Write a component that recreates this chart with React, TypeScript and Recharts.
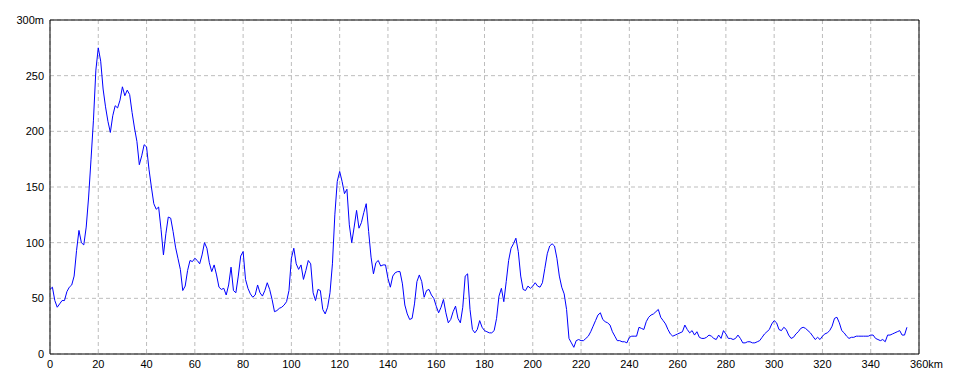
import { LineChart, Line, XAxis, YAxis, CartesianGrid, ReferenceLine } from 'recharts';

// elevation (m) sampled every 1 km, starting at 0 km
const elevation = [
  58, 60, 48, 42, 45, 48, 48, 56, 60, 62,
  70, 93, 111, 100, 98, 114, 141, 175, 210, 255,
  275, 263, 238, 222, 209, 199, 214, 223, 221, 228,
  240, 232, 237, 233, 217, 203, 191, 170, 178, 188,
  186, 166, 150, 135, 130, 132, 112, 89, 108, 123,
  122, 110, 96, 86, 76, 57, 61, 75, 84, 83,
  86, 84, 81, 89, 100, 95, 82, 74, 80, 71,
  60, 58, 59, 53, 62, 78, 57, 55, 70, 88,
  92, 67, 59, 54, 51, 53, 62, 55, 52, 57,
  64, 58, 49, 38, 39, 41, 42, 44, 47, 57,
  86, 95, 81, 76, 80, 67, 75, 84, 81, 55,
  48, 58, 57, 40, 36, 42, 55, 81, 125, 155,
  164, 155, 144, 148, 116, 100, 114, 129, 113, 118,
  127, 135, 110, 87, 72, 82, 84, 79, 80, 80,
  68, 60, 70, 73, 74, 74, 63, 44, 36, 31,
  32, 45, 65, 71, 65, 51, 57, 58, 53, 50,
  43, 37, 42, 49, 37, 28, 31, 38, 43, 32,
  28, 42, 70, 72, 40, 22, 19, 22, 30, 24,
  21, 20, 19, 19, 21, 32, 52, 59, 47, 65,
  84, 95, 99, 104, 92, 70, 58, 57, 61, 59,
  61, 64, 61, 60, 64, 77, 90, 97, 99, 97,
  86, 70, 60, 54, 40, 14, 10, 6, 12, 13,
  12, 12, 14, 16, 20, 25, 30, 35, 37, 31,
  29, 28, 26, 20, 16, 12, 12, 11, 11, 10,
  15, 16, 16, 16, 24, 23, 22, 29, 33, 35,
  36, 38, 40, 33, 30, 27, 22, 18, 16, 17,
  18, 19, 20, 26, 22, 19, 21, 17, 20, 15,
  14, 14, 15, 17, 16, 14, 13, 17, 14, 21,
  18, 14, 14, 13, 14, 17, 14, 10, 10, 11,
  11, 10, 10, 11, 12, 15, 18, 20, 22, 27,
  30, 28, 22, 21, 24, 22, 17, 14, 15, 18,
  20, 23, 24, 23, 21, 19, 16, 13, 15, 13,
  16, 18, 19, 21, 25, 32, 33, 28, 21, 19,
  16, 14, 15, 15, 16, 16, 16, 16, 16, 16,
  17, 17, 14, 13, 12, 13, 11, 17, 17, 18,
  19, 20, 21, 17, 17, 24,
];

const xTicks = [0, 20, 40, 60, 80, 100, 120, 140, 160, 180, 200, 220, 240, 260, 280, 300, 320, 340, 360];
const yTicks = [0, 50, 100, 150, 200, 250, 300];

const data = elevation.map((m, i) => ({ km: i, m }));

const font = { fontFamily: '"Liberation Sans", Arial, sans-serif', fontSize: 11, fill: '#000' };

const XTick = ({ x, y, payload }: any) => {
  const v = payload.value;
  if (v === 360) {
    return <text x={x - 9} y={y + 14} textAnchor="start" style={font}>360km</text>;
  }
  return <text x={x} y={y + 14} textAnchor="middle" style={font}>{v}</text>;
};

const YTick = ({ x, y, payload }: any) => {
  const v = payload.value;
  return (
    <text x={x - 6} y={y + 4} textAnchor="end" style={font}>
      {v === 300 ? '300m' : v}
    </text>
  );
};

export default function App() {
  return (
    <div style={{ position: 'absolute', left: 0, top: 0, width: 960, height: 384, background: '#fff' }}>
      <LineChart width={960} height={384} data={data} margin={{ top: 20, right: 41, left: 0, bottom: 0 }}>
        <CartesianGrid stroke="#bdbdbd" strokeDasharray="4 3" />
        <XAxis
          dataKey="km"
          type="number"
          domain={[0, 360]}
          ticks={xTicks}
          tick={<XTick />}
          tickLine={false}
          tickSize={0}
          tickMargin={0}
          height={30}
          axisLine={{ stroke: '#000', strokeWidth: 1 }}
          interval={0}
        />
        <YAxis
          type="number"
          domain={[0, 300]}
          ticks={yTicks}
          tick={<YTick />}
          tickLine={false}
          tickSize={0}
          tickMargin={0}
          width={50}
          axisLine={{ stroke: '#000', strokeWidth: 1 }}
          interval={0}
        />
        <ReferenceLine y={300} stroke="#000" strokeWidth={1} />
        <ReferenceLine x={360} stroke="#000" strokeWidth={1} />
        <Line
          type="linear"
          dataKey="m"
          stroke="#0000ff"
          strokeWidth={1}
          dot={false}
          isAnimationActive={false}
        />
      </LineChart>
    </div>
  );
}
